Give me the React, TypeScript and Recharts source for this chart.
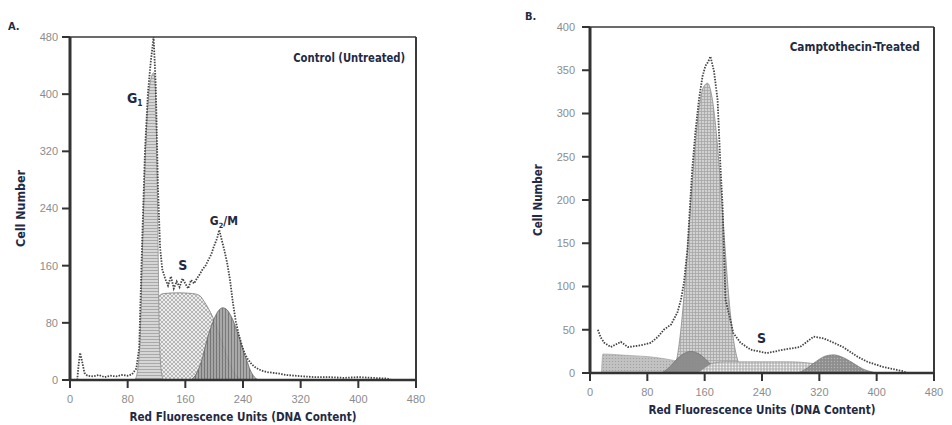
import React from 'react';
import { ComposedChart, Area, Line, XAxis, YAxis, ReferenceLine, ReferenceDot } from 'recharts';

// ---- Panel A: control (untreated) ----
const aRawX = [10, 12, 14, 17, 20, 24, 32, 40, 48, 56, 64, 72, 80, 86, 92, 96, 100, 104, 108, 112, 116, 119, 122, 125, 128, 132, 136, 140, 144, 148, 152, 156, 160, 164, 168, 172, 176, 180, 184, 188, 192, 196, 200, 204, 207, 210, 214, 218, 222, 226, 230, 234, 238, 242, 246, 252, 258, 266, 274, 282, 290, 300, 312, 324, 340, 360, 380, 400, 420, 440, 446];
const aRawY = [0, 22, 38, 25, 10, 6, 5, 7, 4, 6, 5, 7, 6, 8, 16, 45, 190, 320, 400, 445, 480, 410, 270, 185, 155, 142, 132, 145, 128, 138, 130, 142, 135, 128, 140, 135, 142, 148, 155, 160, 168, 176, 188, 198, 210, 198, 182, 164, 140, 108, 82, 64, 50, 38, 30, 22, 17, 13, 11, 10, 9, 7, 6, 5, 4, 4, 3, 4, 3, 2, 0];
const aG1X = [90, 94, 98, 100, 104, 108, 112, 116, 118, 120, 122, 124, 127, 130];
const aG1Y = [0, 15, 80, 160, 300, 385, 420, 430, 415, 340, 200, 60, 10, 0];
const aSX = [100, 106, 112, 118, 124, 130, 150, 170, 180, 186, 192, 198, 204, 210, 216, 222, 228, 234, 240];
const aSY = [0, 30, 75, 105, 118, 121, 122, 121, 118, 110, 100, 88, 72, 55, 38, 22, 10, 3, 0];
const aG2X = [168, 176, 184, 190, 196, 201, 206, 212, 218, 222, 226, 231, 236, 240, 245, 250, 256, 262];
const aG2Y = [0, 10, 32, 56, 75, 88, 97, 101, 98, 92, 84, 70, 56, 42, 28, 14, 4, 0];

// ---- Panel B: camptothecin-treated ----
const bRawX = [11, 15, 20, 29, 43, 53, 71, 85, 95, 103, 113, 122, 127, 131, 136, 140, 143, 147, 152, 157, 161, 165, 168, 173, 178, 180, 182, 185, 189, 196, 200, 210, 224, 247, 270, 293, 312, 326, 340, 353, 373, 387, 409, 437, 442];
const bRawY = [50, 41, 35, 30, 36, 30, 32, 35, 42, 50, 56, 70, 85, 104, 143, 200, 239, 278, 316, 343, 355, 360, 366, 349, 316, 278, 239, 193, 85, 61, 46, 35, 27, 23, 27, 30, 42, 40, 35, 30, 19, 13, 7, 2, 0];
const bDebrisX = [16, 18, 40, 60, 80, 100, 120, 140, 160, 180, 200];
const bDebrisY = [0, 22, 21, 20, 19, 17, 14, 10, 6, 3, 0];
const bSubX = [100, 110, 120, 130, 140, 150, 160, 170, 180, 190];
const bSubY = [0, 6, 15, 22, 25, 23, 17, 9, 3, 0];
const bG1X = [115, 122, 128, 134, 140, 146, 152, 158, 164, 170, 176, 182, 188, 194, 200, 206, 212, 218];
const bG1Y = [0, 20, 60, 120, 190, 255, 305, 330, 335, 320, 280, 220, 150, 85, 40, 15, 4, 0];
const bSX = [150, 160, 170, 190, 220, 250, 280, 300, 320, 340, 360, 380, 390];
const bSY = [0, 6, 11, 13, 13, 13, 13, 12, 10, 7, 4, 1, 0];
const bG2X = [290, 300, 310, 320, 330, 340, 350, 360, 370, 380, 390, 400];
const bG2Y = [0, 4, 10, 16, 20, 21, 19, 15, 10, 5, 2, 0];

const xTicks = [0, 80, 160, 240, 320, 400, 480];
const aYTicks = [0, 80, 160, 240, 320, 400, 480];
const bYTicks = [0, 50, 100, 150, 200, 250, 300, 350, 400];

const narrow = "'Liberation Sans Narrow', 'DejaVu Sans Condensed', Arial, sans-serif";
const plain = "'Liberation Sans', Arial, sans-serif";
const ink = '#1f2a44';

function merge(series: Record<string, [number[], number[]]>) {
  const rows = new Map<number, any>();
  Object.entries(series).forEach(([key, [xs, ys]]) => {
    xs.forEach((x, i) => {
      const row = rows.get(x) ?? { x };
      row[key] = ys[i];
      rows.set(x, row);
    });
  });
  return [...rows.values()].sort((p, q) => p.x - q.x);
}

const dataA = merge({ raw: [aRawX, aRawY], g1: [aG1X, aG1Y], s: [aSX, aSY], g2: [aG2X, aG2Y] });
const dataB = merge({
  raw: [bRawX, bRawY], debris: [bDebrisX, bDebrisY], sub: [bSubX, bSubY],
  g1: [bG1X, bG1Y], s: [bSX, bSY], g2: [bG2X, bG2Y],
});

const yLabel = (dx: number, len: number) => (props: any) => {
  const vb = props.viewBox;
  const cx = vb.x + dx;
  const cy = vb.y + vb.height / 2;
  return (
    <text x={cx} y={cy} transform={`rotate(-90 ${cx} ${cy})`} textAnchor="middle" dominantBaseline="central"
      fontFamily={narrow} fontWeight="bold" fontSize={12} fill={ink} textLength={len} lengthAdjust="spacingAndGlyphs">
      Cell Number
    </text>
  );
};

const xLabel = (dy: number) => (props: any) => {
  const vb = props.viewBox;
  return (
    <text x={vb.x + vb.width / 2} y={vb.y + dy} textAnchor="middle" dominantBaseline="central"
      fontFamily={narrow} fontWeight="bold" fontSize={12} fill={ink} textLength={227} lengthAdjust="spacingAndGlyphs">
      Red Fluorescence Units (DNA Content)
    </text>
  );
};

const note = (text: string, sub?: string, rest?: string, anchor = 'start', size = 14, len?: number) => (p: any) => (
  <text x={p.cx} y={p.cy} textAnchor={anchor} fontFamily={narrow} fontWeight="bold" fontSize={size} fill={ink}
    textLength={len} lengthAdjust={len ? 'spacingAndGlyphs' : undefined}>
    {text}
    {sub && <tspan fontSize={size * 0.6} dy={3}>{sub}</tspan>}
    {rest && <tspan dy={-3}>{rest}</tspan>}
  </text>
);

const tickStyle = { fill: '#8c8c8c', fontSize: 11, fontFamily: plain };

function Patterns() {
  return (
    <svg width={0} height={0} style={{ position: 'absolute' }}>
      <defs>
        <pattern id="aG1" width="3" height="3" patternUnits="userSpaceOnUse">
          <rect width="3" height="3" fill="#d6d6d6" />
          <line x1="0" y1="0.5" x2="3" y2="0.5" stroke="#a9a9a9" strokeWidth="1" />
        </pattern>
        <pattern id="aS" width="4" height="4" patternUnits="userSpaceOnUse">
          <rect width="4" height="4" fill="#ededed" />
          <path d="M0,4 L4,0 M0,0 L4,4" stroke="#9c9c9c" strokeWidth="0.7" />
        </pattern>
        <pattern id="aG2" width="3" height="3" patternUnits="userSpaceOnUse">
          <rect width="3" height="3" fill="#a0a0a0" />
          <line x1="0.5" y1="0" x2="0.5" y2="3" stroke="#6c6c6c" strokeWidth="1" />
        </pattern>
        <pattern id="bG1" width="3" height="3" patternUnits="userSpaceOnUse">
          <rect width="3" height="3" fill="#d2d2d2" />
          <path d="M0,0.5 H3 M0.5,0 V3" stroke="#a6a6a6" strokeWidth="0.8" />
        </pattern>
        <pattern id="bDeb" width="3" height="3" patternUnits="userSpaceOnUse">
          <rect width="3" height="3" fill="#c2c2c2" />
          <circle cx="1.5" cy="1.5" r="0.6" fill="#9a9a9a" />
        </pattern>
        <pattern id="bS" width="3" height="3" patternUnits="userSpaceOnUse">
          <rect width="3" height="3" fill="#b8b8b8" />
          <circle cx="1.5" cy="1.5" r="0.9" fill="#f4f4f4" />
        </pattern>
        <pattern id="bG2" width="3" height="3" patternUnits="userSpaceOnUse">
          <rect width="3" height="3" fill="#8e8e8e" />
          <circle cx="1.5" cy="1.5" r="0.7" fill="#b4b4b4" />
        </pattern>
      </defs>
    </svg>
  );
}

export default function App() {
  const rawLine = { type: 'linear' as const, dataKey: 'raw', stroke: '#444', strokeWidth: 1.8, strokeDasharray: '1.5 1.3', dot: false, activeDot: false, connectNulls: true, isAnimationActive: false };
  return (
    <div style={{ position: 'absolute', left: 0, top: 0, width: 952, height: 425, background: '#fff' }}>
      <Patterns />
      <div style={{ position: 'absolute', left: 8, top: 20, font: `bold 11px ${narrow}`, color: ink }}>A.</div>
      <div style={{ position: 'absolute', left: 525, top: 10, font: `bold 11px ${narrow}`, color: ink }}>B.</div>

      <div style={{ position: 'absolute', left: 0, top: 0 }}>
        <ComposedChart width={476} height={425} data={dataA} margin={{ top: 37, right: 60, bottom: 1, left: 15 }}>
          <XAxis dataKey="x" type="number" domain={[0, 480]} ticks={xTicks} tickSize={8} tickMargin={7} height={44}
            axisLine={{ stroke: '#333', strokeWidth: 2.5 }} tickLine={{ stroke: '#333', strokeWidth: 2 }} tick={tickStyle}
            label={{ content: xLabel(37) }} />
          <YAxis type="number" domain={[0, 480]} ticks={aYTicks} tickSize={8} tickMargin={4} width={55}
            axisLine={{ stroke: '#333', strokeWidth: 3 }} tickLine={{ stroke: '#333', strokeWidth: 2 }} tick={tickStyle}
            label={{ content: yLabel(6, 77) }} />
          <ReferenceLine y={480} stroke="#3a3a3a" strokeWidth={1.5} />
          <ReferenceLine x={480} stroke="#3a3a3a" strokeWidth={2} />
          <Area type="monotone" dataKey="s" stroke="#7a7a7a" strokeWidth={0.8} fill="url(#aS)" fillOpacity={1} connectNulls dot={false} activeDot={false} isAnimationActive={false} />
          <Area type="monotone" dataKey="g2" stroke="#666" strokeWidth={0.8} fill="url(#aG2)" fillOpacity={0.9} connectNulls dot={false} activeDot={false} isAnimationActive={false} />
          <Area type="monotone" dataKey="g1" stroke="#8a8a8a" strokeWidth={0.8} fill="url(#aG1)" fillOpacity={1} connectNulls dot={false} activeDot={false} isAnimationActive={false} />
          <Line {...rawLine} />
          <ReferenceDot x={465} y={445} r={0} ifOverflow="visible" shape={note('Control (Untreated)', undefined, undefined, 'end', 12, 112)} />
          <ReferenceDot x={79} y={388} r={0} ifOverflow="visible" shape={note('G', '1')} />
          <ReferenceDot x={150} y={154} r={0} ifOverflow="visible" shape={note('S')} />
          <ReferenceDot x={194} y={217} r={0} ifOverflow="visible" shape={note('G', '2', '/M', 'start', 12)} />
        </ComposedChart>
      </div>

      <div style={{ position: 'absolute', left: 476, top: 0 }}>
        <ComposedChart width={476} height={425} data={dataB} margin={{ top: 27, right: 18, bottom: 8, left: 59 }}>
          <XAxis dataKey="x" type="number" domain={[0, 480]} ticks={xTicks} tickSize={8} tickMargin={7} height={44}
            axisLine={{ stroke: '#333', strokeWidth: 2.5 }} tickLine={{ stroke: '#333', strokeWidth: 2 }} tick={tickStyle}
            label={{ content: xLabel(37) }} />
          <YAxis type="number" domain={[0, 400]} ticks={bYTicks} tickSize={8} tickMargin={7} width={55}
            axisLine={{ stroke: '#333', strokeWidth: 3 }} tickLine={{ stroke: '#333', strokeWidth: 2 }} tick={tickStyle}
            label={{ content: yLabel(3, 72) }} />
          <ReferenceLine y={400} stroke="#3a3a3a" strokeWidth={1.5} />
          <ReferenceLine x={480} stroke="#3a3a3a" strokeWidth={2} />
          <Area type="monotone" dataKey="debris" stroke="#9a9a9a" strokeWidth={0.6} fill="url(#bDeb)" fillOpacity={1} connectNulls dot={false} activeDot={false} isAnimationActive={false} />
          <Area type="monotone" dataKey="g1" stroke="#8a8a8a" strokeWidth={0.8} fill="url(#bG1)" fillOpacity={1} connectNulls dot={false} activeDot={false} isAnimationActive={false} />
          <Area type="monotone" dataKey="sub" stroke="#666" strokeWidth={0.6} fill="#8a8a8a" fillOpacity={0.95} connectNulls dot={false} activeDot={false} isAnimationActive={false} />
          <Area type="monotone" dataKey="s" stroke="#888" strokeWidth={0.6} fill="url(#bS)" fillOpacity={1} connectNulls dot={false} activeDot={false} isAnimationActive={false} />
          <Area type="monotone" dataKey="g2" stroke="#6a6a6a" strokeWidth={0.6} fill="url(#bG2)" fillOpacity={1} connectNulls dot={false} activeDot={false} isAnimationActive={false} />
          <Line {...rawLine} />
          <ReferenceDot x={460} y={372} r={0} ifOverflow="visible" shape={note('Camptothecin-Treated', undefined, undefined, 'end', 12, 130)} />
          <ReferenceDot x={233} y={35} r={0} ifOverflow="visible" shape={note('S')} />
        </ComposedChart>
      </div>
    </div>
  );
}
